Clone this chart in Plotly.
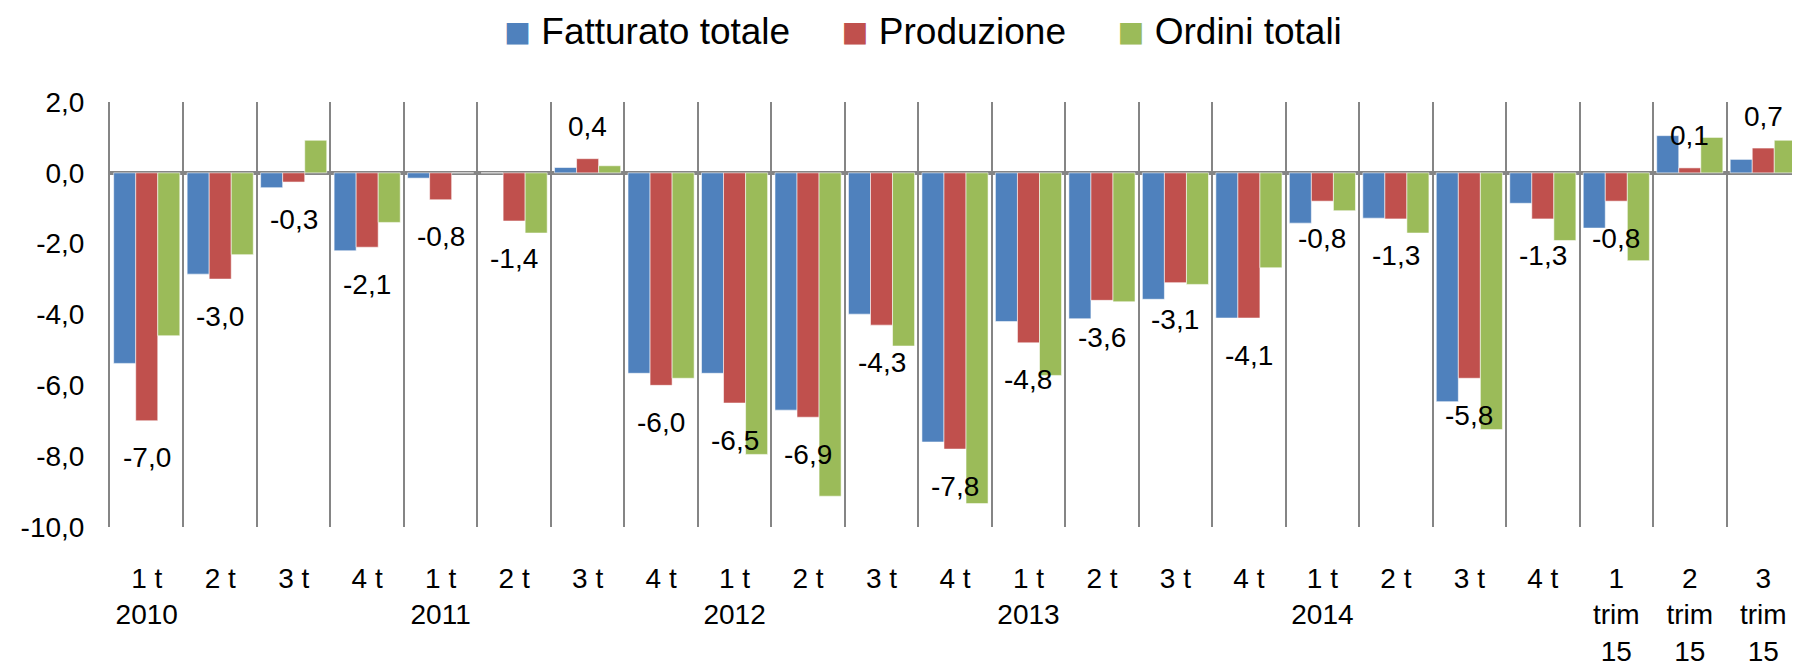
import plotly.graph_objects as go

# ---- data ----
tick_labels = ["1 t<br>2010", "2 t", "3 t", "4 t",
               "1 t<br>2011", "2 t", "3 t", "4 t",
               "1 t<br>2012", "2 t", "3 t", "4 t",
               "1 t<br>2013", "2 t", "3 t", "4 t",
               "1 t<br>2014", "2 t", "3 t", "4 t",
               "1<br>trim<br>15", "2<br>trim<br>15", "3<br>trim<br>15"]
fatturato = [-5.38, -2.86, -0.42, -2.2, -0.15, 0.0, 0.15, -5.66, -5.66, -6.7, -3.99, -7.6,
             -4.2, -4.12, -3.57, -4.1, -1.42, -1.28, -6.46, -0.86, -1.56, 1.05, 0.38]
produzione = [-7.0, -3.0, -0.26, -2.1, -0.76, -1.36, 0.4, -6.0, -6.5, -6.9, -4.3, -7.8,
              -4.8, -3.6, -3.1, -4.1, -0.8, -1.3, -5.8, -1.3, -0.8, 0.14, 0.7]
ordini = [-4.6, -2.31, 0.92, -1.4, 0.0, -1.7, 0.2, -5.8, -7.95, -9.13, -4.89, -9.34,
          -5.72, -3.64, -3.15, -2.68, -1.07, -1.7, -7.25, -1.91, -2.48, 1.0, 0.92]
series_names = ["Fatturato totale", "Produzione", "Ordini totali"]
series_colors = ["#4F81BD", "#C0504D", "#9BBB59"]
y_ticks = [-10, -8, -6, -4, -2, 0, 2]

FONT = "Liberation Sans, Arial, sans-serif"
GRID = "#858585"
x = list(range(len(tick_labels)))

fig = go.Figure()
for name, vals, col in zip(series_names, [fatturato, produzione, ordini], series_colors):
    fig.add_trace(go.Bar(x=x, y=vals, name=name, marker_color=col,
                         marker_line=dict(width=0.8, color="rgba(255,255,255,0.7)"),
                         showlegend=False, hoverinfo="skip"))

def fmt(v):
    return f"{v:.1f}".replace(".", ",")

# data labels for Produzione (drawn above all bars)
for xi, v in zip(x, produzione):
    fig.add_annotation(x=xi, y=v, text=fmt(v), showarrow=False,
                       yshift=32 if v > 0 else -37,
                       font=dict(family=FONT, size=28, color="black"))

# legend built from series names / colours
sp = "\u00a0"
legend_text = (sp * 5).join(
    f"<span style=\"color:{c};font-family:'Noto Sans CJK SC';font-size:27px\">■</span>{sp}{n}"
    for n, c in zip(series_names, series_colors))
fig.add_annotation(xref="paper", yref="paper", x=0.481, y=1.166, yanchor="middle",
                   text=legend_text, showarrow=False,
                   font=dict(family=FONT, size=37, color="black"))

# page body has an 8px margin, so the figure is sized/offset to compensate
fig.update_layout(
    width=1792, height=659,
    margin=dict(l=102, r=0, t=94, b=137),
    barmode="group", bargap=0.1, bargroupgap=0,
    plot_bgcolor="white", paper_bgcolor="white",
    separators=",.",
    font=dict(family=FONT, size=28, color="black"),
)
fig.update_xaxes(
    range=[-0.5, 22.5], tickmode="array", tickvals=x, ticktext=tick_labels,
    showgrid=False, zeroline=False, ticks="", ticklabelstandoff=32,
    tickfont=dict(family=FONT, size=28),
    minor=dict(tickmode="linear", tick0=-0.5, dtick=1, showgrid=True,
               gridcolor=GRID, gridwidth=2, ticks=""),
)
fig.update_yaxes(
    range=[-10, 2], tickmode="array", tickvals=y_ticks,
    ticktext=[fmt(v) for v in y_ticks],
    showgrid=False, zeroline=True, zerolinecolor=GRID, zerolinewidth=3.5,
    showline=True, linecolor=GRID, linewidth=2, ticks="",
    ticklabelstandoff=18, tickfont=dict(family=FONT, size=28),
)

fig.write_html("out.html")
